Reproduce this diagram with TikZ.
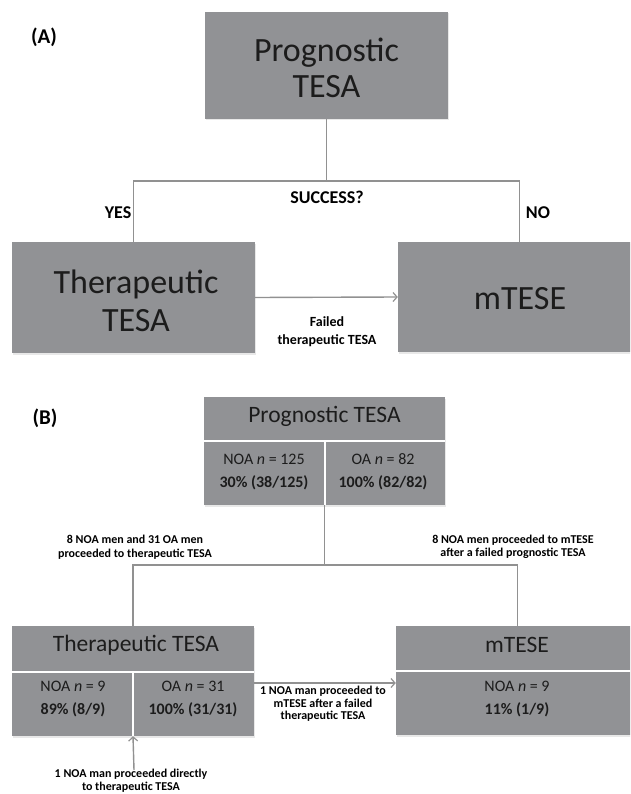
\documentclass[tikz,border=0pt]{standalone}
\usepackage{fontspec}
\setmainfont{Carlito}
\usetikzlibrary{arrows.meta,shadows}
\definecolor{boxgray}{RGB}{145,146,149}
\definecolor{linegray}{RGB}{145,145,145}
\definecolor{txt}{RGB}{28,28,28}
\newcommand\myfs[2]{\fontsize{#1}{#2}\selectfont}
\begin{document}
\begin{tikzpicture}[x=1pt,y=-1pt,
  box/.style={fill=boxgray, draw=none, inner sep=0pt, text=txt, align=center,
    drop shadow={opacity=0.18, shadow xshift=1pt, shadow yshift=-1.5pt}},
  conn/.style={draw=linegray, line width=1.4pt},
  arr/.style={conn, -{Straight Barb[length=4pt,width=9pt,line width=1.2pt]}},
  lab/.style={font=\bfseries, align=center, inner sep=0pt, text=black},
  divider/.style={draw=white, line width=2pt},
  btxt/.style={inner sep=0pt, align=center, text=txt}
]
\useasboundingbox (0,0) rectangle (630,794);
\clip (0,0) rectangle (630,794);

% ---------------- Panel A ----------------
\node[lab, font=\bfseries\myfs{21}{24}] (labA) at (44,37) {(A)};

\node[box, minimum width=243pt, minimum height=107pt] (progA) at (326.5,65.5) {};
\node[btxt, font=\myfs{34}{36}] (progAt) at (326.5,68) {Prognostic\\TESA};

\node[box, minimum width=243pt, minimum height=111pt] (therA) at (133.5,297.5) {};
\node[btxt, font=\myfs{34}{38}] (therAt) at (136,301) {Therapeutic\\TESA};

\node[box, minimum width=243pt, minimum height=110pt] (mtA) at (519.5,297) {};
\node[btxt, font=\myfs{34}{38}] (mtAt) at (520,299) {mTESE};

\coordinate (jA) at (326.5,181);
\draw[conn] (progA.south) -- (jA);
\draw[conn] (jA) -| (therA.north);
\draw[conn] (jA) -| (mtA.north);

\node[lab, font=\bfseries\myfs{18}{20}] (succ) at (327,197) {SUCCESS?};
\node[lab, font=\bfseries\myfs{18}{20}] (yes) at (118,213) {YES};
\node[lab, font=\bfseries\myfs{18}{20}] (no) at (538,213) {NO};

\draw[arr] (therA.east) -- (mtA.west);
\node[lab, font=\bfseries\myfs{14}{18}] (failA) at (327,332) {Failed\\therapeutic TESA};

% ---------------- Panel B ----------------
\node[lab, font=\bfseries\myfs{21}{24}] (labB) at (45,418) {(B)};

% Prognostic TESA (B)
\node[box, minimum width=241pt, minimum height=108pt] (progB) at (324.5,451) {};
\node[btxt, font=\myfs{23.5}{26}] (progBh) at (324.5,416) {Prognostic TESA};
\coordinate (pBdiv) at (0,441);
\draw[divider] (progB.west |- pBdiv) -- (progB.east |- pBdiv);
\draw[divider] (pBdiv -| progB.center) -- (progB.south);
\node[btxt, font=\myfs{16}{23}] (progBl) at (264,472) {NOA \textit{n} = 125\\\textbf{30\% (38/125)}};
\node[btxt, font=\myfs{16}{23}] (progBr) at (383,472) {OA \textit{n} = 82\\\textbf{100\% (82/82)}};

% Therapeutic TESA (B)
\node[box, minimum width=242pt, minimum height=110pt] (therB) at (133,681) {};
\node[btxt, font=\myfs{23.5}{26}] (therBh) at (136,645) {Therapeutic TESA};
\coordinate (tBdiv) at (0,672);
\draw[divider] (therB.west |- tBdiv) -- (therB.east |- tBdiv);
\draw[divider] (tBdiv -| therB.center) -- (therB.south);
\node[btxt, font=\myfs{16}{23}] (therBl) at (73,699) {NOA \textit{n} = 9\\\textbf{89\% (8/9)}};
\node[btxt, font=\myfs{16}{23}] (therBr) at (193,699) {OA \textit{n} = 31\\\textbf{100\% (31/31)}};

% mTESE (B)
\node[box, minimum width=243pt, minimum height=109pt] (mtB) at (517.5,680.5) {};
\node[btxt, font=\myfs{23.5}{26}] (mtBh) at (517,645) {mTESE};
\coordinate (mBdiv) at (0,671);
\draw[divider] (mtB.west |- mBdiv) -- (mtB.east |- mBdiv);
\node[btxt, font=\myfs{16}{23}] (mtBl) at (517,699) {NOA \textit{n} = 9\\\textbf{11\% (1/9)}};

% connectors B
\coordinate (jB) at (324.5,565);
\draw[conn] (progB.south) -- (jB);
\draw[conn] (jB) -| (therB.north);
\draw[conn] (jB) -| (mtB.north);

\node[lab, font=\bfseries\myfs{12}{13.5}] (lblL) at (135,547) {8 NOA men and 31 OA men\\proceeded to therapeutic TESA};
\node[lab, font=\bfseries\myfs{12}{13.5}] (lblR) at (513,547) {8 NOA men proceeded to mTESE\\after a failed prognostic TESA};

\coordinate (tBarr) at (0,683);
\draw[arr] (therB.east |- tBarr) -- (mtB.west |- tBarr);
\node[lab, font=\bfseries\myfs{12}{12.5}] (lblM) at (323,704) {1 NOA man proceeded to\\mTESE after a failed\\therapeutic TESA};

\coordinate (bottomStart) at (134,770);
\draw[arr] (bottomStart) -- (therB.south);
\node[lab, font=\bfseries\myfs{12}{13.5}] (lblB) at (131,780.5) {1 NOA man proceeded directly\\to therapeutic TESA};
\end{tikzpicture}
\end{document}
